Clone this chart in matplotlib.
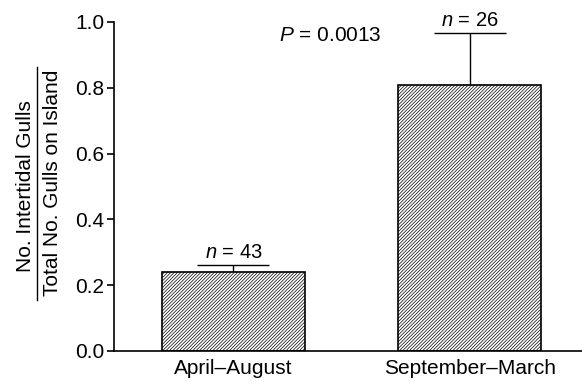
import matplotlib.pyplot as plt
from matplotlib.lines import Line2D

plt.rcParams["font.family"] = ["Liberation Sans", "DejaVu Sans"]
plt.rcParams["mathtext.fontset"] = "custom"
plt.rcParams["mathtext.it"] = "Liberation Sans:italic"
plt.rcParams["mathtext.rm"] = "Liberation Sans"
plt.rcParams["hatch.linewidth"] = 0.5

PERIODS = ["April\u2013August", "September\u2013March"]
PROPORTIONS = [0.24, 0.808]
ERRORS = [0.022, 0.158]
SAMPLE_SIZES = [43, 26]
P_VALUE = "0.0013"


def main() -> None:
    fig = plt.figure(figsize=(5.82, 3.9), dpi=100)
    ax = fig.add_axes([0.196, 0.10, 0.804, 0.8436])

    x = list(range(len(PERIODS)))
    ax.bar(x, PROPORTIONS, width=0.605, facecolor="white", edgecolor="black",
           linewidth=1.2, hatch="//////////", zorder=2)
    ax.errorbar(x, PROPORTIONS, yerr=[[0] * len(ERRORS), ERRORS], fmt="none",
                ecolor="black", elinewidth=1.0, capsize=26, capthick=1.0, zorder=1)
    for xi, p, e, n in zip(x, PROPORTIONS, ERRORS, SAMPLE_SIZES):
        ax.text(xi, p + e + 0.01, f"$n$ = {n}", ha="center", va="bottom", fontsize=14.5)
    ax.text(0.41, 0.96, f"$P$ = {P_VALUE}", ha="center", va="center", fontsize=15)

    ax.set_xlim(-0.505, 1.474)
    ax.set_ylim(0, 1.0)
    ax.set_yticks([0.0, 0.2, 0.4, 0.6, 0.8, 1.0])
    ax.set_yticklabels([f"{v:.1f}" for v in ax.get_yticks()])
    ax.set_xticks(x)
    ax.set_xticklabels(PERIODS)
    ax.tick_params(axis="y", direction="out", length=5, width=1.2, labelsize=15, pad=2)
    ax.tick_params(axis="x", length=0, labelsize=15, pad=6)
    for side in ("top", "right"):
        ax.spines[side].set_visible(False)
    for side in ("left", "bottom"):
        ax.spines[side].set_linewidth(1.2)

    # y label drawn as a fraction
    fig.text(26 / 582, 1 - 186 / 390, "No. Intertidal Gulls", rotation=90,
             ha="center", va="center", fontsize=15)
    fig.text(53 / 582, 1 - 183 / 390, "Total No. Gulls on Island", rotation=90,
             ha="center", va="center", fontsize=15)
    fig.add_artist(Line2D([37 / 582, 37 / 582], [1 - 67 / 390, 1 - 300 / 390],
                          color="black", linewidth=1.0))

    fig.savefig("out.png", dpi=100)


if __name__ == "__main__":
    main()
